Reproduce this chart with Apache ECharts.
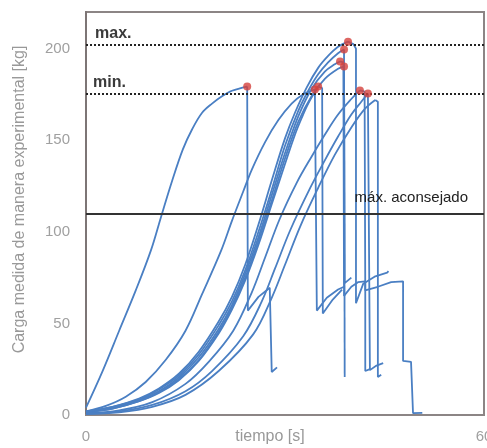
<!DOCTYPE html>
<html>
  <head>
    <meta charset="utf-8" />
    <title>Carga medida vs tiempo</title>
    <script src="https://cdn.jsdelivr.net/npm/echarts@6.0.0/dist/echarts.min.js"></script>
  </head>
  <body style="margin: 0">
    <div id="main" style="width: 487px; height: 448px"></div>
    <script type="text/javascript">
      // each curve: [tiempo (s), carga (kg)]
      var curveA = [[0,4],[2.5,24],[5,46],[7.5,68],[9.8,90],[11.3,108],[13,128],[14.6,145],[16,156],[17.5,165],[19,170],[20.5,174],[22,177],[24.3,179.3],
        [24.4,57],[26,64.5],[27.7,69.5],[28.0,69.5],[28.0,23.5],[28.8,26]];
      var curveB = [[0,2],[3,5],[6,10],[9,18],[12,30],[15,46],[17.5,66],[20.4,90],[22,106],[23.7,122],[25,134],[27,149],[29,161],[31,170],[32.7,175],[34.5,177.7],
        [34.8,177],[34.8,57],[36.3,64],[38.0,68.5],[38.9,70]];
      var curveP3 = [[0,1.5],[4,3.5],[8,7.5],[11,12],[14,19],[17,29.5],[20,44.5],[22,57.5],[24,73.5],[26,93],[28,115],[30,137],[31.5,153],[32.5,162],[33.5,170],[35.0,179.3],
        [35.6,178.5],[35.7,55.4],[37.2,63],[38.6,68.5]];
      var curveP4 = [[0,1.5],[4,4],[8,8],[11,13],[14,20.5],[17,31.5],[20,47],[22,60],[24,77],[26,97],[28,120],[30,143],[32,163],[34,178],[36,187.5],[37.5,191.5],[38.3,193],
        [38.8,192.5],[38.9,65],[40,70],[41.0,72.5],[42.1,73],[42.1,24],[42.8,25]];
      var curveP5 = [[0,1.5],[4,3.5],[8,7.5],[11,12.5],[14,19.5],[17,30],[20,45.5],[22,58.5],[24,75],[26,95],[28,117],[30,140],[32,160],[34,174],[36,183.5],[38,189],[38.9,190.2],
        [39.0,189.5],[39.0,72],[40.0,75]];
      var curveP6 = [[0,2],[4,4.5],[8,8.5],[11,14],[14,21.5],[17,33],[20,49],[22,62],[24,79],[26,100],[28,123],[30,147],[32,166],[33.5,177],[35,186],[36.5,192.5],[38,197.5],[38.9,199.5],
        [39.0,199],[39.0,20.7]];
      var curveP7 = [[0,2],[4,4.5],[8,9],[11,14.5],[14,22.5],[17,34.5],[20,51],[22,64.5],[24,82],[26,104],[28,128],[30,151],[31.5,165],[33.3,179],[35,189.5],[36.5,196],[38,201],[39.5,203.8],
        [40.3,202.5],[40.7,200],[40.7,61],[41.8,71.7],[43.5,75.5],[45.4,77.7],[45.6,78.5]];
      var curveC1 = [[0,1],[5,2.5],[10,7],[15,17],[18.5,29],[22.2,46],[25,67],[27,86],[29.2,107],[31.8,127],[34,141],[36,153],[38,164],[40,172.5],[41.3,177.2],
        [42.0,176.5],[42.1,176],[42.1,68],[44,70],[46,72.5],[47.8,73],[47.8,29.5],[49.0,29],[49.3,28.8],[49.3,1],[50.7,1.2]];
      var curveC2 = [[0,0.8],[5,2],[10,5.5],[15,13],[19,24],[23.7,43],[26.5,62],[28.5,80],[30.8,101],[33.8,124],[36,139],[38,152],[40,164],[41.5,171],[42.5,175.5],
        [42.8,175],[42.8,24.5],[43.8,27],[44.8,28.3]];
      var curveC3 = [[0,0.5],[5,1.5],[10,4.5],[15,11],[20,24],[25.2,44],[28,64],[30,82],[32.3,103],[35,124],[37.5,142],[40,157],[42,167],[43.6,172],
        [44.0,171],[44.0,20.7],[44.5,22]];
      var curves = [curveA, curveB, curveP3, curveP4, curveP5, curveP6, curveP7, curveC1, curveC2, curveC3];

      var peaks = [[24.3,179.3],[34.5,177.7],[35.0,179.3],[38.3,193],[38.9,190.2],[38.9,199.5],[39.5,203.8],[41.3,177.2],[42.5,175.5]];

      var limitMax = 202.3;
      var limitMin = 175.3;
      var recommended = 110;

      var myChart = echarts.init(document.getElementById("main"));

      var font = "Liberation Sans";
      var lineColor = "#4a7fc3";
      var series = [];
      // rising part drawn smooth, the rest (drops, hooks) straight
      curves.forEach(function (c) {
        var top = 0;
        c.forEach(function (p, i) { if (p[1] > c[top][1]) top = i; });
        series.push({
          type: "line", data: c.slice(0, top + 1), symbol: "none", silent: true, smooth: 0.35,
          lineStyle: { color: lineColor, width: 1.8 },
        });
        series.push({
          type: "line", data: c.slice(top), symbol: "none", silent: true,
          lineStyle: { color: lineColor, width: 1.8 },
        });
      });

      // reference lines
      series.push({
        type: "line",
        data: [],
        markLine: {
          silent: true,
          symbol: ["none", "none"],
          data: [
            {
              yAxis: limitMax,
              lineStyle: { type: "dotted", color: "#222", width: 2 },
              label: { formatter: "max.", position: "insideStartTop", distance: [9, 3], fontSize: 16, fontWeight: "bold", color: "#3a3a3a", fontFamily: font },
            },
            {
              yAxis: limitMin,
              lineStyle: { type: "dotted", color: "#222", width: 2 },
              label: { formatter: "min.", position: "insideStartTop", distance: [7, 3], fontSize: 16, fontWeight: "bold", color: "#3a3a3a", fontFamily: font },
            },
            {
              yAxis: recommended,
              lineStyle: { type: "solid", color: "#333", width: 2 },
              label: { formatter: "máx. aconsejado", position: "insideEndTop", distance: [16, 8], fontSize: 15, color: "#222", fontFamily: font },
            },
          ],
        },
      });

      series.push({
        type: "scatter",
        data: peaks,
        symbolSize: 8,
        z: 5,
        itemStyle: { color: "#d4413c" },
      });

      var option = {
        animation: false,
        grid: { left: 86, right: 3, top: 12, bottom: 33, outerBoundsMode: "none", containLabel: false, show: true, borderColor: "#8c8585", borderWidth: 2 },
        xAxis: {
          type: "value",
          min: 0,
          max: 60,
          interval: 60,
          name: "tiempo [s]",
          nameLocation: "middle",
          nameGap: 14,
          nameMoveOverlap: false,
          nameTextStyle: { fontSize: 16, color: "#999", fontFamily: font, padding: [0, 30, 0, 0] },
          axisLine: { lineStyle: { color: "#8c8585", width: 2 } },
          axisTick: { show: false },
          splitLine: { show: false },
          axisLabel: { fontSize: 15, color: "#a0a0a0", margin: 14, fontFamily: font },
        },
        yAxis: {
          type: "value",
          min: 0,
          max: 220,
          interval: 50,
          name: "Carga medida de manera experimental [kg]",
          nameLocation: "middle",
          nameGap: 58,
          nameMoveOverlap: false,
          nameTextStyle: { fontSize: 16, color: "#999", fontFamily: font, padding: [0, 0, 0, 28] },
          axisLine: { lineStyle: { color: "#7d7575", width: 2 } },
          axisTick: { show: false },
          splitLine: { show: false },
          axisLabel: {
            fontSize: 15,
            color: "#a0a0a0",
            margin: 16,
            fontFamily: font,
            formatter: function (v) { return v % 50 === 0 ? v : ""; },
          },
        },
        series: series,
      };

      myChart.setOption(option);
    </script>
  </body>
</html>
